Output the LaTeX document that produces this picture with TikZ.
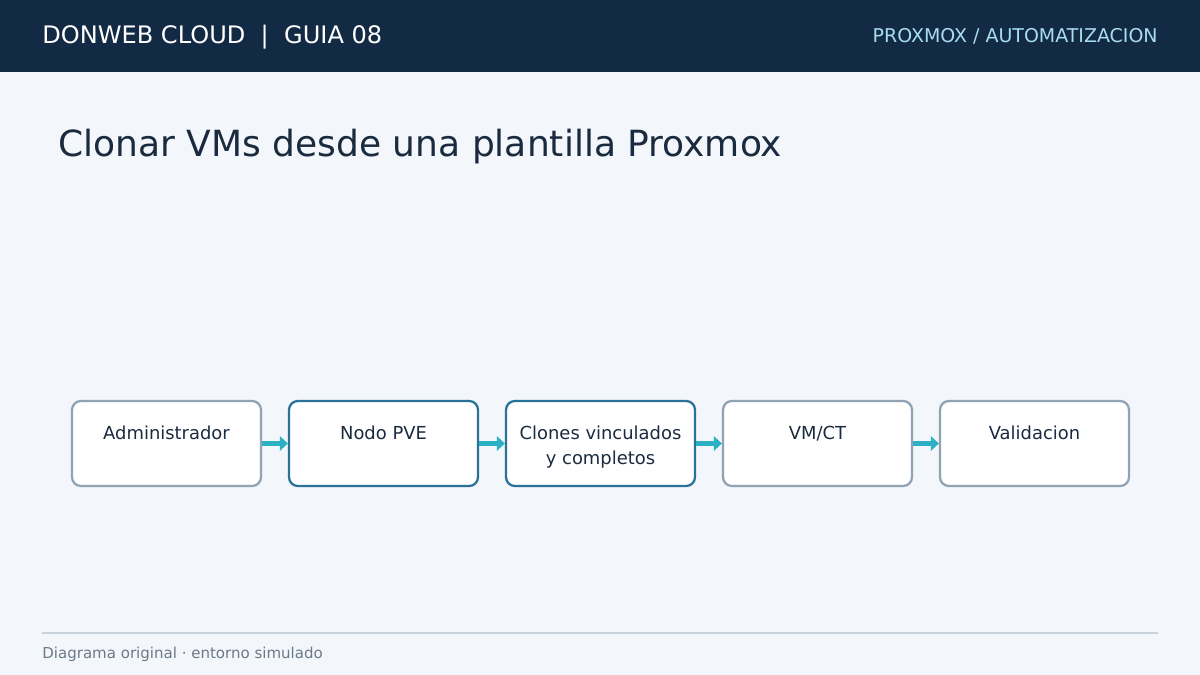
\documentclass[tikz,border=0pt]{standalone}
\usepackage{fontspec}
\setmainfont{DejaVu Sans}
\usetikzlibrary{arrows.meta}
\definecolor{hdrbg}{HTML}{132A45}
\definecolor{pagebg}{HTML}{F3F6FA}
\definecolor{hdrsub}{HTML}{A8DDEE}
\definecolor{titlec}{HTML}{1A2B40}
\definecolor{grayedge}{HTML}{8FA3B3}
\definecolor{blueedge}{HTML}{2A7299}
\definecolor{arrowc}{HTML}{2BB0C4}
\definecolor{rulec}{HTML}{C8D2DC}
\definecolor{footc}{HTML}{6B7A88}
\newcommand{\toprow}{\rule{0pt}{12.3pt}}
\tikzset{
  box/.style={rectangle,rounded corners=5pt,fill=white,line width=1.3pt,
    minimum width=3.78cm,minimum height=1.7cm,align=center,text=titlec,
    font=\fontsize{10.2}{14.2}\selectfont},
  plainbox/.style={box,draw=grayedge},
  keybox/.style={box,draw=blueedge},
  flow/.style={arrowc,line width=2.6pt,-{Triangle[length=4.5pt,width=8pt]}}
}
\begin{document}
\begin{tikzpicture}[x=0.02cm,y=-0.02cm]
\useasboundingbox (0,0) rectangle (1200,675);
\fill[pagebg] (0,0) rectangle (1200,675);
\fill[hdrbg] (0,0) rectangle (1200,72);
\node[anchor=base west,text=white,font=\fontsize{13.7}{16}\selectfont,inner sep=0] (brand) at (42,44) {DONWEB CLOUD\ \ |\ \ GUIA 08};
\node[anchor=base east,text=hdrsub,font=\fontsize{10.8}{13}\selectfont,inner sep=0] (topic) at (1158,43) {PROXMOX / AUTOMATIZACION};
\node[anchor=base west,text=titlec,font=\fontsize{20.5}{24}\selectfont,inner sep=0] (title) at (58,157) {Clonar VMs desde una plantilla Proxmox};

\node[plainbox] (adm)  at (166.5,443.5) {\toprow Administrador\\\phantom{y}};
\node[keybox]   (pve)  at (383.5,443.5) {\toprow Nodo PVE\\\phantom{y}};
\node[keybox]   (clon) at (600.5,443.5) {\toprow Clones vinculados\\y completos};
\node[plainbox] (vmct) at (817.5,443.5) {\toprow VM/CT\\\phantom{y}};
\node[plainbox] (val)  at (1034.5,443.5) {\toprow Validacion\\\phantom{y}};
\foreach \a/\b in {adm/pve,pve/clon,clon/vmct,vmct/val}
  \draw[flow] (\a.east) -- (\b.west);

\draw[rulec,line width=0.8pt] (42,633) -- (1158,633);
\node[anchor=base west,text=footc,font=\fontsize{8.55}{10}\selectfont,inner sep=0] (note) at (42,658) {Diagrama original · entorno simulado};
\end{tikzpicture}
\end{document}
